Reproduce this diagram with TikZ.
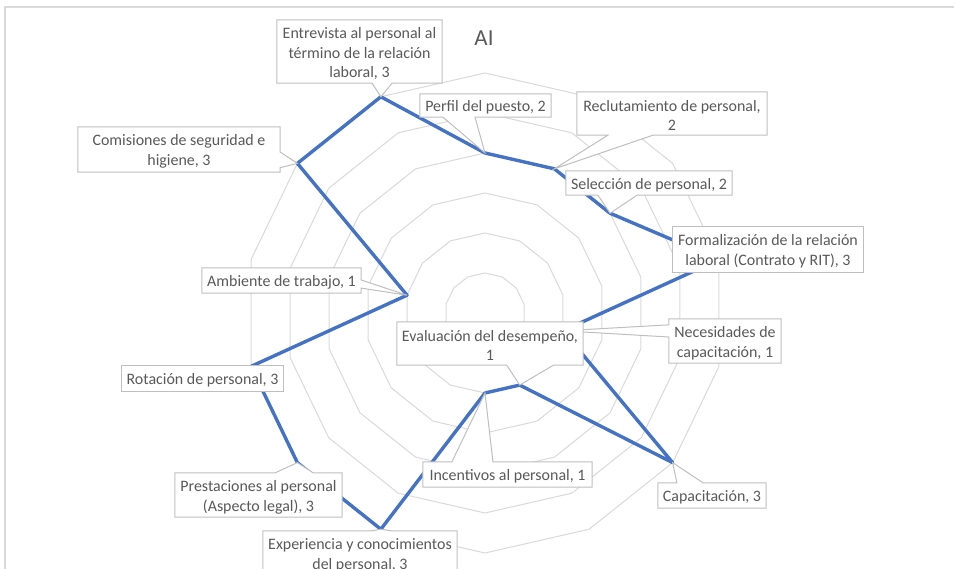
\documentclass[tikz,border=0pt]{standalone}
\usepackage{fontspec}
\setmainfont{Carlito}
\usetikzlibrary{calc}
\pgfdeclarelayer{chart}
\pgfdeclarelayer{boxes}
\pgfsetlayers{chart,boxes,main}

\definecolor{ringgray}{HTML}{D9D9D9}
\definecolor{framegray}{HTML}{D9D9D9}
\definecolor{seriesblue}{HTML}{4472C4}
\definecolor{labelgray}{HTML}{595959}
\definecolor{edgegray}{HTML}{BFBFBF}

\tikzset{
  ringline/.style={draw=ringgray, line width=1bp, line join=miter},
  seriesline/.style={draw=seriesblue, line width=3.4bp, line join=round},
  chartframe/.style={draw=framegray, line width=1.5bp},
  callbox/.style 2 args={rectangle, inner sep=0pt, minimum width=#1bp, minimum height=#2bp},
  callout/.style={draw=edgegray, fill=white, line width=1bp, line join=miter},
  calltext/.style={font=\fontsize{16}{20}\selectfont, text=labelgray, align=center, inner sep=0pt},
  charttitle/.style={font=\fontsize{23}{27}\selectfont, text=labelgray, inner sep=0pt},
}

% Callout outlines: box plus a wedge on one edge; #2<#3 are the wedge
% base positions along that edge, #4 is the data point it points at.
\newcommand\callS[4]{%
  \begin{pgfonlayer}{boxes}
    \draw[callout] (#1.north west) -- (#1.north east) -- (#1.south east)
      -- ($(#1.south west)!#3!(#1.south east)$) -- (#4)
      -- ($(#1.south west)!#2!(#1.south east)$) -- (#1.south west) -- cycle;
  \end{pgfonlayer}}
\newcommand\callN[4]{%
  \begin{pgfonlayer}{boxes}
    \draw[callout] (#1.south west) -- (#1.south east) -- (#1.north east)
      -- ($(#1.north west)!#3!(#1.north east)$) -- (#4)
      -- ($(#1.north west)!#2!(#1.north east)$) -- (#1.north west) -- cycle;
  \end{pgfonlayer}}
\newcommand\callW[4]{%
  \begin{pgfonlayer}{boxes}
    \draw[callout] (#1.north east) -- (#1.south east) -- (#1.south west)
      -- ($(#1.north west)!#3!(#1.south west)$) -- (#4)
      -- ($(#1.north west)!#2!(#1.south west)$) -- (#1.north west) -- cycle;
  \end{pgfonlayer}}
\newcommand\callE[4]{%
  \begin{pgfonlayer}{boxes}
    \draw[callout] (#1.south west) -- (#1.north west) -- (#1.north east)
      -- ($(#1.north east)!#2!(#1.south east)$) -- (#4)
      -- ($(#1.north east)!#3!(#1.south east)$) -- (#1.south east) -- cycle;
  \end{pgfonlayer}}
\newcommand\callR[1]{%
  \begin{pgfonlayer}{boxes}
    \draw[callout] (#1.north west) rectangle (#1.south east);
  \end{pgfonlayer}}

\begin{document}
\begin{tikzpicture}[x=1bp, y=-1bp]
\useasboundingbox (0,0) rectangle (954,569);

% chart area frame
\draw[chartframe] (5,575) -- (5,7) -- (960,7);

% title
\node[charttitle] (title) at (484,38) {AI};

% data points: 14 axes, 80bp per unit, centre (485,313)
\foreach \v [count=\k from 0] in {2,2,2,3,1,3,1,1,3,3,3,1,3,3}
  \coordinate (p\k) at ({485+80*\v*sin(\k*360/14)},{313-80*\v*cos(\k*360/14)});

\begin{pgfonlayer}{chart}
  % gridline rings every 0.5
  \foreach \r in {40,80,120,160,200,240}
    \draw[ringline] (485,{313-\r})
      \foreach \k in {1,...,13} { -- ({485+\r*sin(\k*360/14)},{313-\r*cos(\k*360/14)}) } -- cycle;
  % series
  \draw[seriesline] (p0) -- (p1) -- (p2) -- (p3) -- (p4) -- (p5) -- (p6) -- (p7)
    -- (p8) -- (p9) -- (p10) -- (p11) -- (p12) -- (p13) -- cycle;
\end{pgfonlayer}

% data label boxes
\node[callbox={165}{63}] (bEnt) at (359.5,51.5) {};
\node[callbox={131}{23}] (bPer) at (485.5,105.5) {};
\node[callbox={190}{43}] (bRec) at (672,113.5) {};
\node[callbox={166}{24}] (bSel) at (649,183) {};
\node[callbox={190}{45}] (bFor) at (768,249.5) {};
\node[callbox={112}{44}] (bNec) at (725,341) {};
\node[callbox={108}{25}] (bCap) at (712,495.5) {};
\node[callbox={186}{43}] (bEva) at (490,343.5) {};
\node[callbox={169}{25}] (bInc) at (507.5,474.5) {};
\node[callbox={194}{45}] (bExp) at (360,553.5) {};
\node[callbox={167}{44}] (bPre) at (258.5,495) {};
\node[callbox={161}{25}] (bRot) at (202.5,378.5) {};
\node[callbox={159}{25}] (bAmb) at (281.5,280.5) {};
\node[callbox={202}{45}] (bCom) at (179,149.5) {};

\callS{bEnt}{0.576}{0.697}{p13}
\callS{bPer}{0.176}{0.42}{p0}
\callS{bRec}{0.163}{0.4}{p1}
\callS{bSel}{0.193}{0.428}{p2}
\callR{bFor}
\callW{bNec}{0.136}{0.41}{p4}
\callN{bCap}{0.176}{0.417}{p5}
\callS{bEva}{0.59}{0.84}{p6}
\callN{bInc}{0.172}{0.414}{p7}
\callN{bExp}{0.56}{0.66}{p8}
\callN{bPre}{0.6}{0.826}{p9}
\callR{bRot}
\callE{bAmb}{0.48}{0.8}{p11}
\callE{bCom}{0.556}{0.9}{p12}

% data label texts
\node[calltext] (tEnt) at ($(bEnt.center)+(0,2)$) {Entrevista al personal al\\término de la relación\\laboral, 3};
\node[calltext] (tPer) at ($(bPer.center)+(0,2)$) {Perfil del puesto, 2};
\node[calltext] (tRec) at ($(bRec.center)+(0,2)$) {Reclutamiento de personal,\\2};
\node[calltext] (tSel) at ($(bSel.center)+(0,2)$) {Selección de personal, 2};
\node[calltext] (tFor) at ($(bFor.center)+(0,2)$) {Formalización de la relación\\laboral (Contrato y RIT), 3};
\node[calltext] (tNec) at ($(bNec.center)+(0,2)$) {Necesidades de\\capacitación, 1};
\node[calltext] (tCap) at ($(bCap.center)+(0,2)$) {Capacitación, 3};
\node[calltext] (tEva) at ($(bEva.center)+(0,2)$) {Evaluación del desempeño,\\1};
\node[calltext] (tInc) at ($(bInc.center)+(0,2)$) {Incentivos al personal, 1};
\node[calltext] (tExp) at ($(bExp.center)+(0,2)$) {Experiencia y conocimientos\\del personal, 3};
\node[calltext] (tPre) at ($(bPre.center)+(0,2)$) {Prestaciones al personal\\(Aspecto legal), 3};
\node[calltext] (tRot) at ($(bRot.center)+(0,2)$) {Rotación de personal, 3};
\node[calltext] (tAmb) at ($(bAmb.center)+(0,2)$) {Ambiente de trabajo, 1};
\node[calltext] (tCom) at ($(bCom.center)+(0,2)$) {Comisiones de seguridad e\\higiene, 3};
\end{tikzpicture}
\end{document}
